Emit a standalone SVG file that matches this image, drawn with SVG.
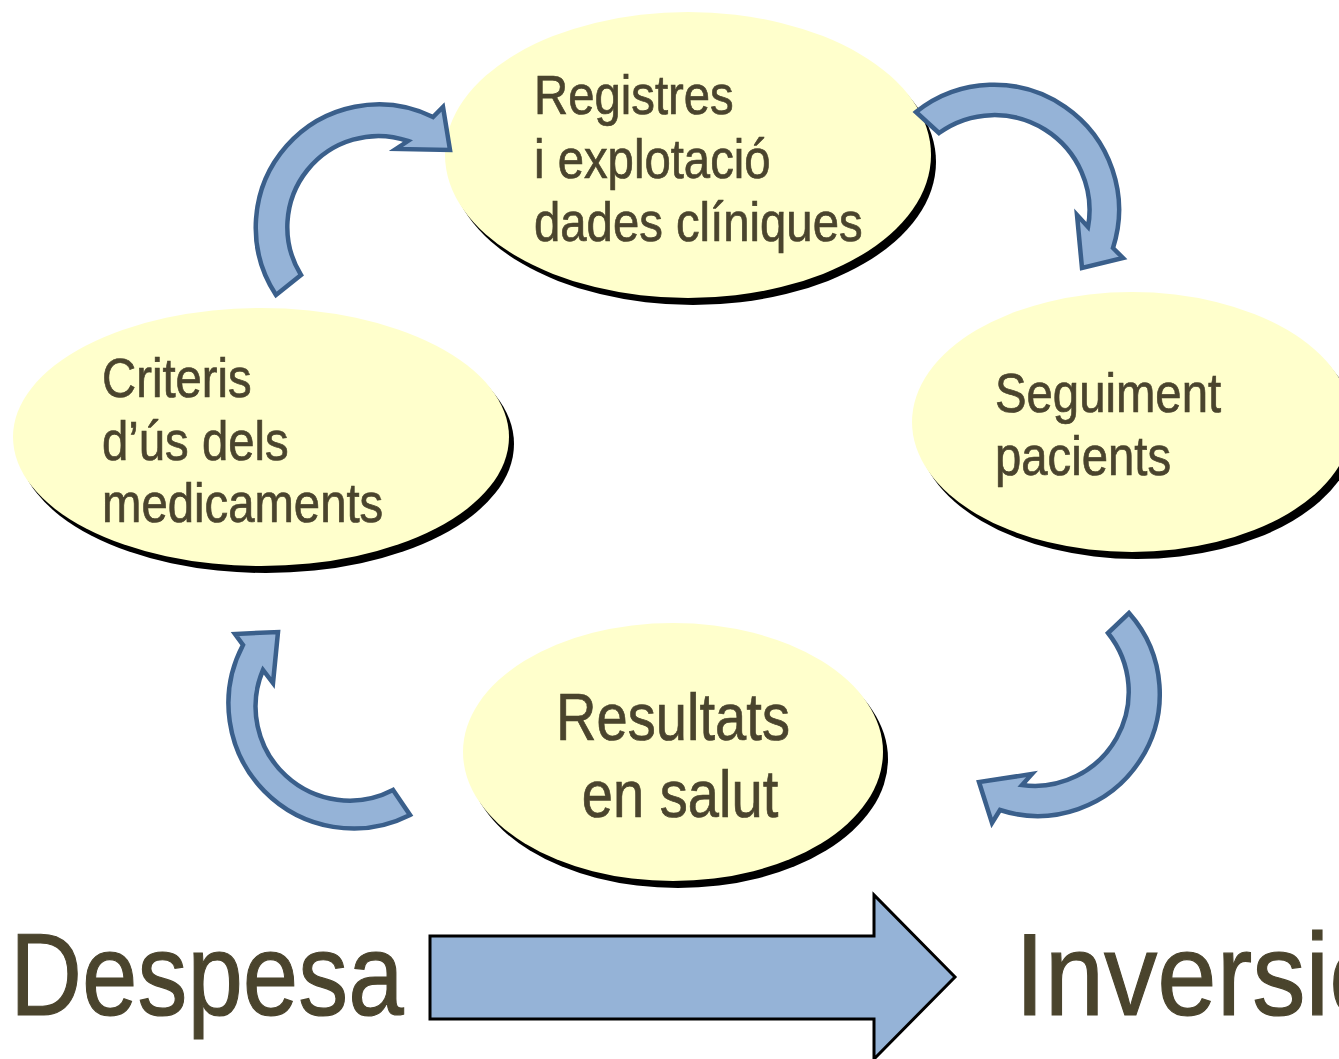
<svg xmlns="http://www.w3.org/2000/svg" width="1339" height="1059" viewBox="0 0 1339 1059">
<style>
  .shadow { fill: #000; }
  .bubble { fill: #FFFFCC; }
  .t { font-family: "Liberation Sans", Arial, sans-serif; fill: #4A442D; stroke: #4A442D; stroke-width: 0.7; }
  .s { font-size: 55px; }
  .m { font-size: 66px; text-anchor: middle; }
  .b { font-size: 116px; stroke-width: 1.2; }
  .curve { fill: #95B3D7; stroke: #3A5F8B; stroke-width: 4.5; stroke-linejoin: miter; }
  .big { fill: #95B3D7; stroke: #000; stroke-width: 3; }
</style>
<rect width="1339" height="1059" fill="#fff"/>
<g id="node-registres">
  <ellipse class="shadow" cx="693" cy="162" rx="243" ry="143"/>
  <ellipse class="bubble" cx="688" cy="155" rx="243" ry="143"/>
  <text class="t s" transform="translate(534,114) scale(0.86,1)">Registres</text>
  <text class="t s" transform="translate(534,178) scale(0.86,1)">i explotació</text>
  <text class="t s" transform="translate(534,241) scale(0.86,1)">dades clíniques</text>
</g>
<g id="node-criteris">
  <ellipse class="shadow" cx="266" cy="444" rx="248" ry="129"/>
  <ellipse class="bubble" cx="261" cy="437" rx="248" ry="129"/>
  <text class="t s" transform="translate(102,397) scale(0.86,1)">Criteris</text>
  <text class="t s" transform="translate(102,460) scale(0.86,1)">d’ús dels</text>
  <text class="t s" transform="translate(102,522) scale(0.86,1)">medicaments</text>
</g>
<g id="node-seguiment">
  <ellipse class="shadow" cx="1137" cy="429" rx="220" ry="130"/>
  <ellipse class="bubble" cx="1132" cy="422" rx="220" ry="130"/>
  <text class="t s" transform="translate(995,412) scale(0.86,1)">Seguiment</text>
  <text class="t s" transform="translate(995,475) scale(0.86,1)">pacients</text>
</g>
<g id="node-resultats">
  <ellipse class="shadow" cx="678" cy="759" rx="210" ry="129"/>
  <ellipse class="bubble" cx="673" cy="752" rx="210" ry="129"/>
  <text class="t m" transform="translate(673,740) scale(0.85,1)">Resultats</text>
  <text class="t m" transform="translate(680,817) scale(0.85,1)">en salut</text>
</g>
<g id="label-despesa">
  <text class="t b" transform="translate(10,1015) scale(0.86,1)">Despesa</text>
</g>
<g id="label-inversio">
  <text class="t b" transform="translate(1015,1015) scale(0.92,1)">Inversió</text>
</g>
<g id="connectors">
  <path class="curve" d="M276,295 A123,123 0 0 1 433,117 L443,107 L450,150 L396,149 L408,141 A91,91 0 0 0 301,275 Z"/>
  <path class="curve" d="M916,112 A125,125 0 0 1 1113,248 L1123,258 L1082,268 L1077,215 L1088,227 A95,95 0 0 0 939,133 Z"/>
  <path class="curve" d="M1129,613 A122,122 0 0 1 1000,810 L992,823 L979,782 L1032,774 L1022,785 A94,94 0 0 0 1108,633 Z"/>
  <path class="curve" d="M410,815 A125,125 0 0 1 243,645 L235,634 L278,632 L273,683 L263,670 A94,94 0 0 0 393,790 Z"/>
  <path class="big" d="M430,936 L874,936 L874,895 L955,977 L874,1059 L874,1019 L430,1019 Z"/>
</g>
</svg>
